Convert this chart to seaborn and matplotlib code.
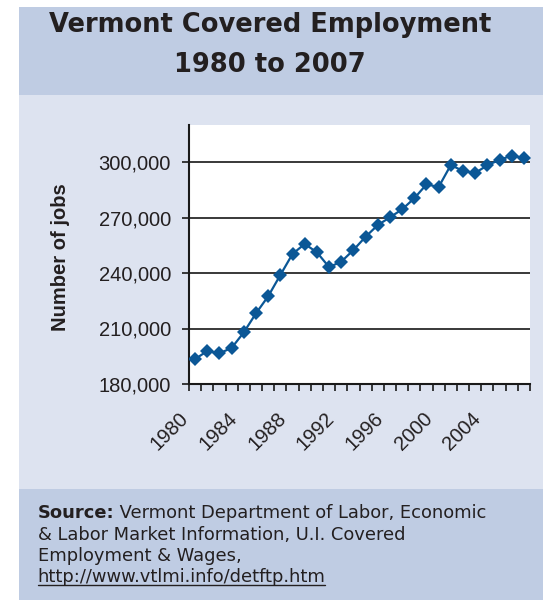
import numpy as np
import matplotlib
matplotlib.use("Agg")
import matplotlib.pyplot as plt
import matplotlib.transforms as mtransforms
from matplotlib.patches import Rectangle
from matplotlib.lines import Line2D
from matplotlib.ticker import FuncFormatter
import seaborn as sns

# Annual covered employment in Vermont
years = list(range(1980, 2008))
jobs = [193500, 197800, 196600, 199500, 207900, 218200, 227400, 238900,
        250300, 255700, 251200, 243200, 246100, 252400, 259600, 265900,
        270100, 274400, 280400, 287900, 286500, 298400, 295100, 294100,
        298200, 301200, 303400, 302200]
y_ticks = [180000, 210000, 240000, 270000, 300000]
x_label_years = [1980, 1984, 1988, 1992, 1996, 2000, 2004]

title_lines = ["Vermont Covered Employment", "1980 to 2007"]
y_label = "Number of jobs"
source_head = "Source:"
source_lines = [" Vermont Department of Labor, Economic",
                "& Labor Market Information, U.I. Covered",
                "Employment & Wages,"]
source_url = "http://www.vtlmi.info/detftp.htm"

W, H = 543, 600
BLUE = "#0B5796"
BAND_DARK = "#BFCCE3"
BAND_LIGHT = "#DDE3F0"
TEXT = "#231F20"

sns.set_theme(style="white")
plt.rcParams["font.family"] = ["Liberation Sans", "DejaVu Sans"]

fig = plt.figure(figsize=(W / 100, H / 100), dpi=100)
fig.patch.set_facecolor("white")


def band(x0, y0, x1, y1, color):
    fig.add_artist(Rectangle((x0 / W, 1 - y1 / H), (x1 - x0) / W, (y1 - y0) / H,
                             transform=fig.transFigure, facecolor=color,
                             edgecolor="none", zorder=-5))


band(19, 7, W, 95, BAND_DARK)
band(19, 95, W, 489, BAND_LIGHT)
band(19, 489, W, H, BAND_DARK)

# Title
for line, yb in zip(title_lines, [31.5, 72]):
    fig.text(270 / W, 1 - yb / H, line, ha="center", va="baseline",
             fontsize=18.5, fontweight="bold", color=TEXT, family="DejaVu Sans")

# Plot area
ax = fig.add_axes([189 / W, 1 - 384 / H, (530 - 189) / W, (384 - 125) / H])
ax.set_facecolor("white")
sns.lineplot(x=years, y=jobs, ax=ax, color=BLUE, linewidth=1.6,
             marker="D", markersize=7, markeredgewidth=0, zorder=3)

ax.set_xlim(1979.5, 2007.5)
ax.set_ylim(180000, 320000)
ax.set_yticks(y_ticks)
ax.yaxis.set_major_formatter(FuncFormatter(lambda v, p: f"{int(v):,}"))
ax.yaxis.grid(True, color="#2A2A2A", linewidth=1.3)
ax.xaxis.grid(False)
ax.set_axisbelow(True)

for side in ("top", "right"):
    ax.spines[side].set_visible(False)
for side in ("left", "bottom"):
    ax.spines[side].set_color("#1A1A1A")
    ax.spines[side].set_linewidth(1.5)

ax.set_xticks(x_label_years)
ax.set_xticklabels([str(y) for y in x_label_years])
ax.set_xticks(np.arange(1979.5, 2008, 1.0), minor=True)
ax.tick_params(axis="x", which="major", length=0, pad=22.5,
               labelsize=14.5, labelcolor=TEXT, labelrotation=45)
ax.tick_params(axis="x", which="minor", length=5, width=1.2,
               color="#1A1A1A", direction="out", bottom=True)
ax.tick_params(axis="y", which="major", length=5, width=1.2,
               color="#1A1A1A", direction="out", left=True, pad=8,
               labelsize=14.5, labelcolor=TEXT)

ax.set_ylabel(y_label, fontsize=14.5, fontweight="bold", color=TEXT)
ax.yaxis.label.set_verticalalignment("center")
ax.yaxis.set_label_coords(-(189 - 60) / 341, 0.49)

fig.canvas.draw()
renderer = fig.canvas.get_renderer()

# Rotated year labels, anchored at their right end and nudged left
shift = mtransforms.ScaledTranslation(-9.5 / 100, 0, fig.dpi_scale_trans)
for tick in ax.xaxis.get_major_ticks():
    lab = tick.label1
    lab.set_horizontalalignment("right")
    lab.set_verticalalignment("center")
    lab.set_rotation_mode("anchor")
    lab.set_transform(lab.get_transform() + shift)

# Source note
src_size = 12.9
x0 = 37.5 / W
baselines = [517.5, 539.5, 561, 582]
head = fig.text(x0, 1 - baselines[0] / H, source_head, ha="left", va="baseline",
                fontsize=src_size, fontweight="bold", color=TEXT,
                family="DejaVu Sans")
bb = head.get_window_extent(renderer)
fig.text(bb.x1 / W, 1 - baselines[0] / H, source_lines[0], ha="left",
         va="baseline", fontsize=src_size, color=TEXT, family="DejaVu Sans")
for line, yb in zip(source_lines[1:], baselines[1:3]):
    fig.text(x0, 1 - yb / H, line, ha="left", va="baseline",
             fontsize=src_size, color=TEXT, family="DejaVu Sans")
url = fig.text(x0, 1 - baselines[3] / H, source_url, ha="left", va="baseline",
               fontsize=src_size, color=TEXT, family="DejaVu Sans")
ub = url.get_window_extent(renderer)
uy = 1 - (baselines[3] + 2.5) / H
fig.add_artist(Line2D([ub.x0 / W, ub.x1 / W], [uy, uy], transform=fig.transFigure,
                      color=TEXT, linewidth=1.0))

fig.savefig("out.png", dpi=100)
